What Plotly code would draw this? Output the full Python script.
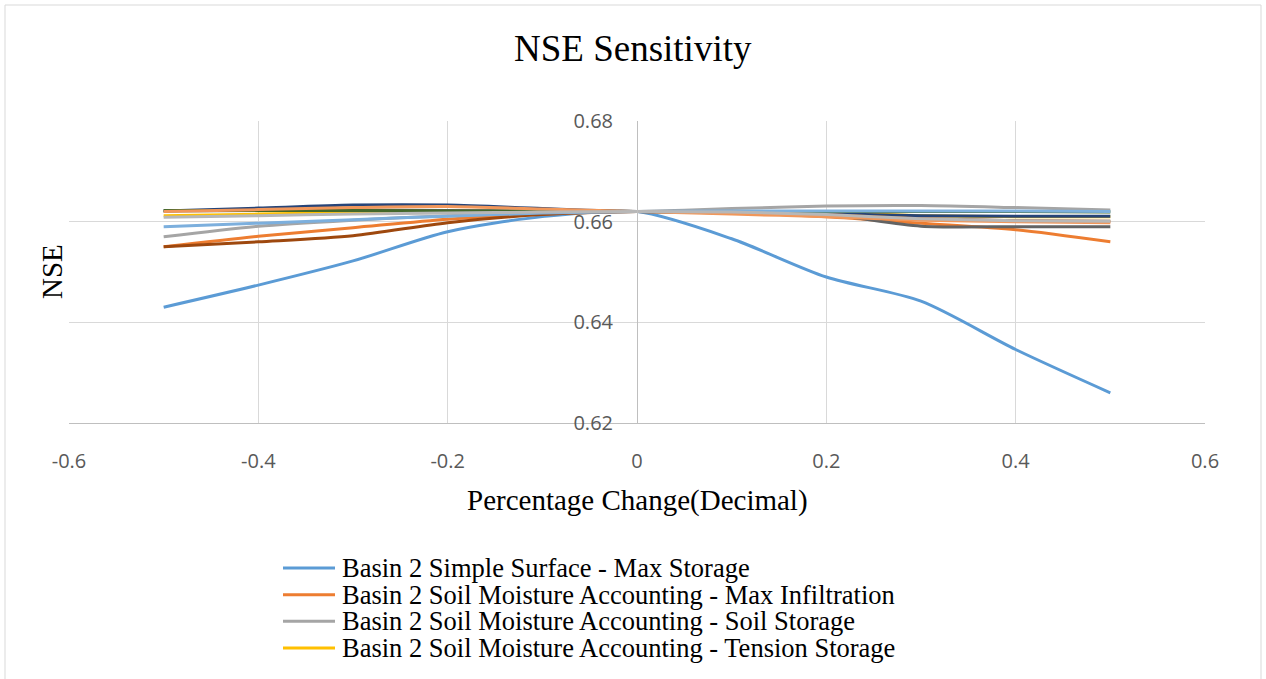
import plotly.graph_objects as go

x_vals = [-0.5, -0.4, -0.3, -0.2, -0.1, 0.0, 0.1, 0.2, 0.3, 0.4, 0.5]

ss_max_storage = [0.6430, 0.6474, 0.6522, 0.6580, 0.6610, 0.6620, 0.6566, 0.6490, 0.6442, 0.6346, 0.6260]
sma_max_infiltration = [0.6550, 0.6571, 0.6588, 0.6605, 0.6615, 0.6620, 0.6617, 0.6610, 0.6597, 0.6584, 0.6560]
sma_soil_storage = [0.6570, 0.6591, 0.6603, 0.6612, 0.6617, 0.6620, 0.6626, 0.6631, 0.6632, 0.6628, 0.6623]
sma_tension_storage = [0.6612, 0.6615, 0.6618, 0.6620, 0.6620, 0.6620, 0.6620, 0.6618, 0.6612, 0.6610, 0.6610]
sma_gw1_storage = [0.6621, 0.6627, 0.6633, 0.6633, 0.6626, 0.6620, 0.6619, 0.6616, 0.6612, 0.6611, 0.6611]
sma_gw1_coefficient = [0.6550, 0.6560, 0.6572, 0.6598, 0.6614, 0.6620, 0.6619, 0.6614, 0.6606, 0.6602, 0.6601]
sma_gw2_storage = [0.6621, 0.6622, 0.6623, 0.6622, 0.6621, 0.6620, 0.6617, 0.6614, 0.6591, 0.6590, 0.6590]
sma_gw2_coefficient = [0.6622, 0.6622, 0.6622, 0.6621, 0.6621, 0.6620, 0.6620, 0.6620, 0.6620, 0.6620, 0.6619]
clark_tc = [0.6590, 0.6597, 0.6604, 0.6611, 0.6617, 0.6620, 0.6621, 0.6621, 0.6621, 0.6621, 0.6620]
clark_storage = [0.6620, 0.6624, 0.6628, 0.6630, 0.6625, 0.6620, 0.6615, 0.6610, 0.6603, 0.6600, 0.6598]
baseflow_recession = [0.6609, 0.6612, 0.6615, 0.6617, 0.6619, 0.6620, 0.6619, 0.6614, 0.6606, 0.6602, 0.6601]

series = [
    ("Basin 2 Simple Surface - Max Storage", ss_max_storage, "#5B9BD5", True),
    ("Basin 2 Soil Moisture Accounting - Max Infiltration", sma_max_infiltration, "#ED7D31", True),
    ("Basin 2 Soil Moisture Accounting - Soil Storage", sma_soil_storage, "#A5A5A5", True),
    ("Basin 2 Soil Moisture Accounting - Tension Storage", sma_tension_storage, "#FFC000", True),
    ("Basin 2 Soil Moisture Accounting - GW1 Storage", sma_gw1_storage, "#264478", False),
    ("Basin 2 Soil Moisture Accounting - GW1 Coefficient", sma_gw1_coefficient, "#9E480E", False),
    ("Basin 2 Soil Moisture Accounting - GW2 Storage", sma_gw2_storage, "#636363", False),
    ("Basin 2 Soil Moisture Accounting - GW2 Coefficient", sma_gw2_coefficient, "#43682B", False),
    ("Basin 2 Clark - Time of Concentration", clark_tc, "#7CAFDD", False),
    ("Basin 2 Clark - Storage Coefficient", clark_storage, "#F1975A", False),
    ("Basin 2 Recession - Recession Constant", baseflow_recession, "#B7B7B7", False),
]

x_tick_vals = [-0.6, -0.4, -0.2, 0, 0.2, 0.4, 0.6]
x_tick_text = ["-0.6", "-0.4", "-0.2", "0", "0.2", "0.4", "0.6"]
y_tick_vals = [0.62, 0.64, 0.66, 0.68]
y_tick_text = ["0.62", "0.64", "0.66", "0.68"]

fig = go.Figure()
for name, vals, color, _ in series:
    fig.add_trace(go.Scatter(
        x=x_vals, y=vals, name=name, mode="lines",
        line=dict(color=color, width=3, shape="spline", smoothing=0.8),
        showlegend=False,
    ))

L, R, T, B = 69, 61, 121, 256
W, H = 1266, 679
pw, ph = W - L - R, H - T - B

def px(xp):
    return (xp - L) / pw

def py(yp):
    return (H - B - yp) / ph

annotations = [
    dict(text="NSE Sensitivity", x=px(633), y=py(48), xref="paper", yref="paper",
         showarrow=False, xanchor="center", yanchor="middle",
         font=dict(family="Liberation Serif", size=37, color="#000000")),
    dict(text="Percentage Change(Decimal)", x=px(637), y=py(500), xref="paper", yref="paper",
         showarrow=False, xanchor="center", yanchor="middle",
         font=dict(family="Liberation Serif", size=29, color="#000000")),
    dict(text="NSE", x=px(52), y=py(272), xref="paper", yref="paper",
         showarrow=False, xanchor="center", yanchor="middle", textangle=-90,
         font=dict(family="Liberation Serif", size=29, color="#000000")),
]

shapes = [
    dict(type="rect", xref="paper", yref="paper", x0=px(5), x1=px(1261), y0=py(700), y1=py(5),
         line=dict(color="#D9D9D9", width=1), fillcolor="rgba(0,0,0,0)", layer="below"),
]

legend_rows = [568, 594.7, 621.3, 648]
legend_items = [s for s in series if s[3]]
for (name, _, color, _), yrow in zip(legend_items, legend_rows):
    shapes.append(dict(type="line", xref="paper", yref="paper",
                       x0=px(283), x1=px(335), y0=py(yrow), y1=py(yrow),
                       line=dict(color=color, width=3)))
    annotations.append(dict(text=name, x=px(340), y=py(yrow), xref="paper", yref="paper",
                            showarrow=False, xanchor="left", yanchor="middle",
                            font=dict(family="Liberation Serif", size=26.5, color="#000000")))

fig.update_layout(
    width=W, height=H, autosize=False,
    margin=dict(l=L, r=R, t=T, b=B, pad=0),
    paper_bgcolor="#FFFFFF", plot_bgcolor="#FFFFFF",
    showlegend=False,
    annotations=annotations,
    shapes=shapes,
    xaxis=dict(range=[-0.6, 0.6], tickvals=x_tick_vals, ticktext=x_tick_text,
               showgrid=True, gridcolor="#D9D9D9", gridwidth=1,
               zeroline=False, showline=True, linecolor="#BFBFBF", linewidth=1,
               ticks="", ticklabelstandoff=20,
               tickfont=dict(family="Open Sans", size=20, color="#595959")),
    yaxis=dict(range=[0.62, 0.68], tickvals=y_tick_vals, ticktext=y_tick_text,
               showgrid=True, gridcolor="#D9D9D9", gridwidth=1,
               zeroline=False, showline=True, linecolor="#BFBFBF", linewidth=1,
               anchor="free", position=0.5, ticks="", ticklabelstandoff=20,
               tickfont=dict(family="Open Sans", size=20, color="#595959")),
)

fig.write_html("out.html")
